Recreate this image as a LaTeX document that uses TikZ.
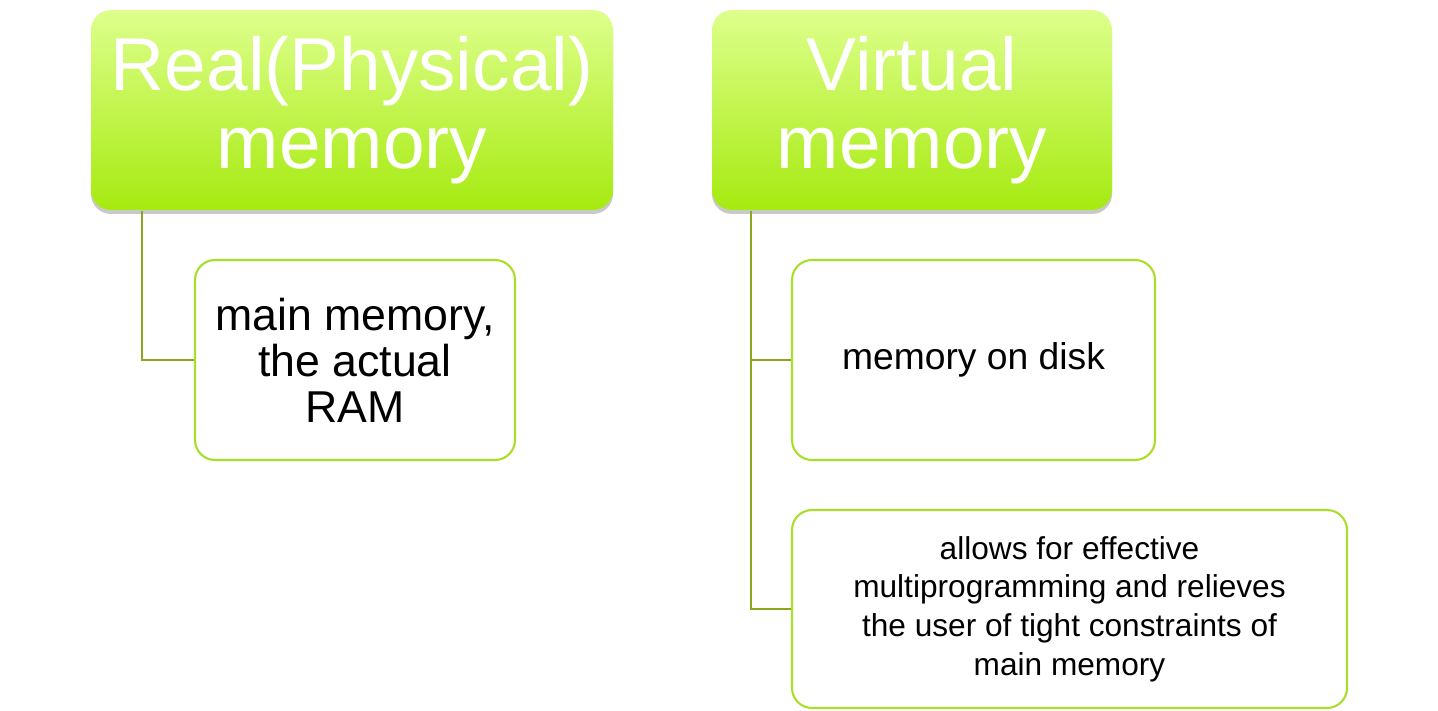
\documentclass[tikz,border=0pt]{standalone}
\usepackage{fontspec}
\setmainfont{Liberation Sans}
\usepackage{tikz}
\usetikzlibrary{
	shadows,
	positioning
}
\definecolor{HeadTop}{RGB}{222,255,140}
\definecolor{HeadBot}{RGB}{166,234,16}
\definecolor{LeafLine}{RGB}{170,222,44}
\definecolor{StemLine}{RGB}{138,168,30}

\begin{document}
\begin{tikzpicture}[
		head/.style={rounded corners=0.2cm, top color=HeadTop, bottom color=HeadBot, draw=none,
			minimum height=2cm, align=center, text=white,
			font=\fontsize{21.3pt}{22.2pt}\selectfont,
			drop shadow={shadow xshift=0pt, shadow yshift=-0.04cm, opacity=0.3, fill=black!70}},
		leaf/.style={rounded corners=0.2cm, draw=LeafLine, line width=0.6pt, fill=white,
			minimum height=2cm, align=center, text=black},
		stem/.style={draw=StemLine, line width=0.6pt}
	]
		\useasboundingbox (0,0) rectangle (14.38,7.10);
		\node[head, minimum width=5.22cm] (real) at (3.52,6.00) {Real(Physical)\\memory};
		\node[head, minimum width=4.00cm] (virt) at (9.12,6.00) {Virtual\\memory};
		\node[leaf, minimum width=3.20cm, font=\fontsize{12.7pt}{13.1pt}\selectfont] (ram) at (3.55,3.50) {main memory,\\the actual\\RAM};
		\node[leaf, minimum width=3.63cm, font=\fontsize{10.6pt}{12pt}\selectfont] (disk) at (9.735,3.50) {memory on disk};
		\node[leaf, minimum width=5.55cm, minimum height=1.98cm, font=\fontsize{9pt}{11pt}\selectfont] (multi) at (10.695,1.01) {allows for effective\\multiprogramming and relieves\\the user of tight constraints of\\main memory};
		\draw[stem] ([xshift=0.52cm]real.south west) |- (ram.west);
		\draw[stem] ([xshift=0.40cm]virt.south west) |- (disk.west);
		\draw[stem] ([xshift=0.40cm]virt.south west) |- (multi.west);
	\end{tikzpicture}
\end{document}
